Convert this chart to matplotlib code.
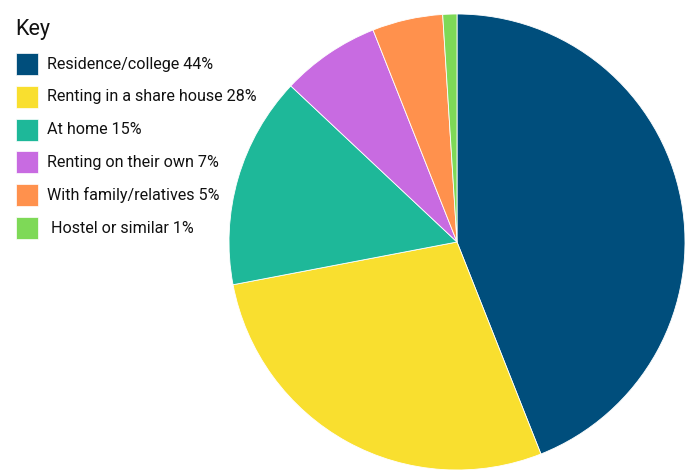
import matplotlib.pyplot as plt
from matplotlib.patches import Rectangle

plt.rcParams['font.family'] = ['Roboto', 'DejaVu Sans']

labels = ['Residence/college 44%', 'Renting in a share house 28%', 'At home 15%',
          'Renting on their own 7%', 'With family/relatives 5%', ' Hostel or similar 1%']
values = [44, 28, 15, 7, 5, 1]
colors = ['#004E7C', '#F9DF2F', '#1EB899', '#C86BE1', '#FF914D', '#7ED957']

W, H = 685, 473
fig = plt.figure(figsize=(W / 100, H / 100), dpi=100)

# pie: centre ~ (457, 242) px, radius ~228 px
cx, cy, r = 457, 242, 228
ax = fig.add_axes([(cx - r) / W, (H - cy - r) / H, 2 * r / W, 2 * r / H])
ax.pie(values, colors=colors, startangle=90, counterclock=False,
       wedgeprops=dict(edgecolor='white', linewidth=0.6))
ax.set_xlim(-1, 1)
ax.set_ylim(-1, 1)
ax.set_aspect('equal')
ax.axis('off')

# key
fig.text(15 / W, 1 - 30 / H, 'Key', fontsize=15.5, va='center', ha='left', color='#111111')
for i, (lab, col) in enumerate(zip(labels, colors)):
    yc = 64 + i * 32.8
    fig.patches.append(Rectangle((15.5 / W, 1 - (yc + 11) / H), 22.5 / W, 22 / H,
                                 transform=fig.transFigure, facecolor=col,
                                 edgecolor='white', linewidth=0.5))
    fig.text(47 / W, 1 - yc / H, lab, fontsize=11.6, va='center', ha='left', color='#111111')

fig.savefig('out.png', dpi=100)
